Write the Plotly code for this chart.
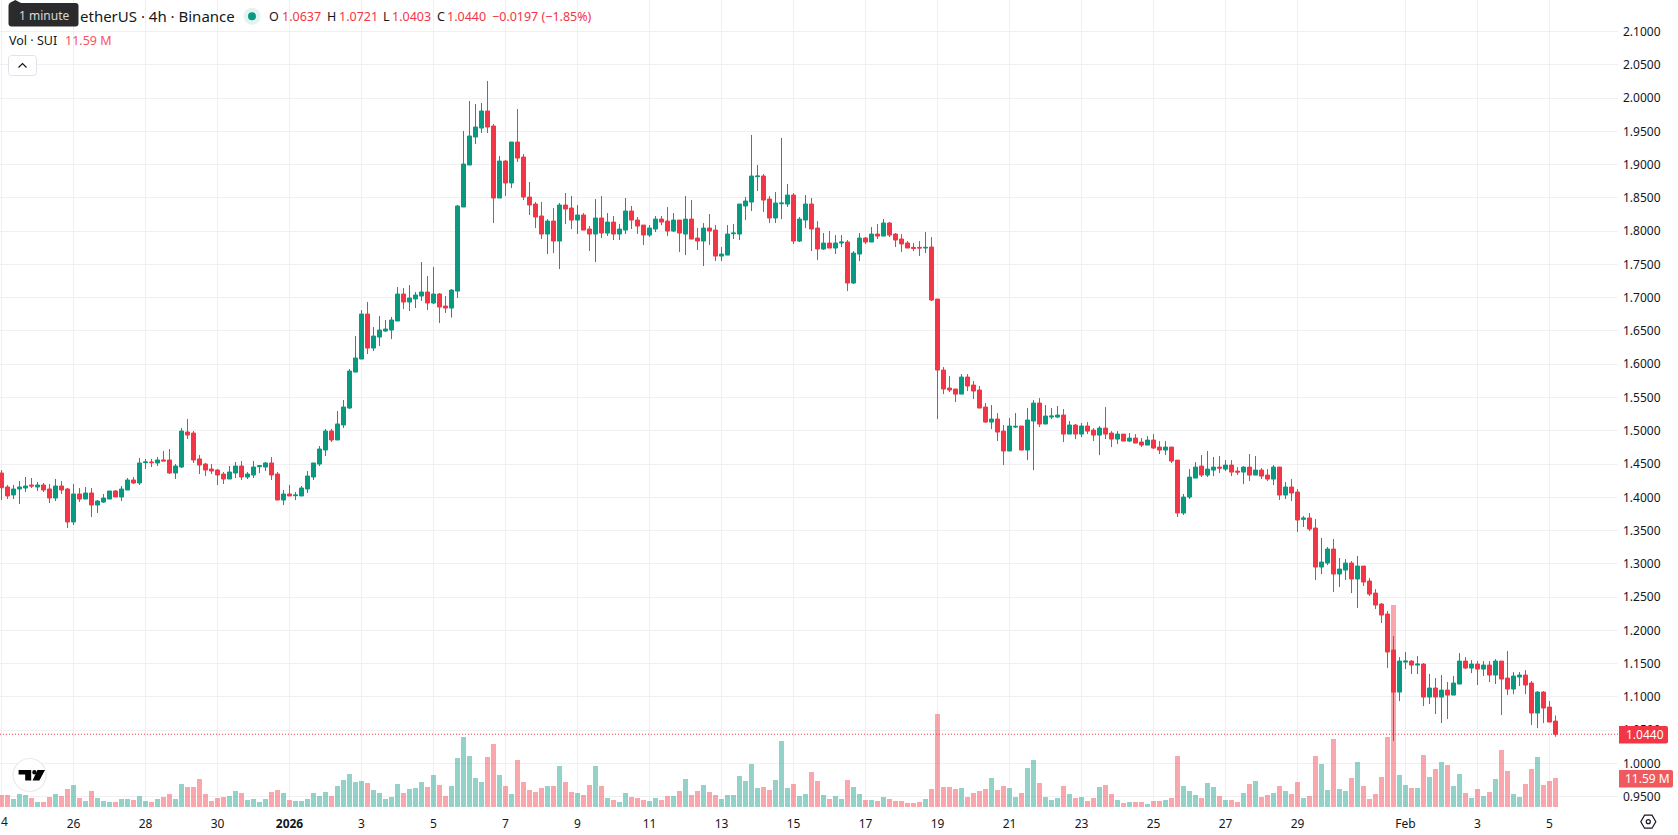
import pandas as pd
import plotly.graph_objects as go

# SUI/USDT 4h candles, 24 Dec 2025 00:00 onward
opens = [
    1.4365,1.4155,1.4035,1.4125,1.4140,1.4185,1.4155,1.4185,1.4125,1.3989,
    1.4170,1.4125,1.3629,1.4050,1.3974,1.4065,1.3884,1.3929,1.3974,1.4095,
    1.4005,1.4110,1.4260,1.4215,1.4521,1.4531,1.4516,1.4561,1.4561,1.4365,
    1.4455,1.4981,1.4966,1.4576,1.4500,1.4425,1.4410,1.4350,1.4275,1.4365,
    1.4470,1.4305,1.4335,1.4460,1.4455,1.4516,1.4350,1.3959,1.4050,1.4025,
    1.4020,1.4125,1.4305,1.4500,1.4711,1.4996,1.4861,1.5087,1.5342,1.5882,
    1.6078,1.6754,1.6243,1.6408,1.6499,1.6514,1.6649,1.7055,1.6934,1.6980,
    1.7025,1.7085,1.6920,1.7055,1.6874,1.6844,1.7099,1.8362,1.8993,1.9414,
    1.9549,1.9805,1.9579,1.8497,1.9053,1.8723,1.9339,1.9113,1.8512,1.8407,
    1.8227,1.7956,1.8151,1.7851,1.8392,1.8347,1.8166,1.8242,1.8031,1.7956,
    1.8197,1.7971,1.8136,1.7956,1.8016,1.8302,1.8166,1.8091,1.7941,1.8031,
    1.8181,1.8151,1.8001,1.8166,1.7956,1.8181,1.7896,1.7851,1.8046,1.8016,
    1.7625,1.7640,1.7961,1.7956,1.8377,1.8437,1.8818,1.8828,1.8482,1.8197,
    1.8412,1.8407,1.8542,1.7851,1.8166,1.8407,1.8046,1.7731,1.7821,1.7746,
    1.7821,1.7836,1.7220,1.7655,1.7896,1.7836,1.7956,1.7926,1.8122,1.7956,
    1.7881,1.7821,1.7756,1.7756,1.7746,1.7761,1.6979,1.5912,1.5642,1.5627,
    1.5551,1.5807,1.5687,1.5612,1.5356,1.5131,1.5176,1.4995,1.4695,1.5056,
    1.5071,1.4710,1.5146,1.5416,1.5101,1.5206,1.5206,1.5236,1.4950,1.5086,
    1.4950,1.5071,1.5010,1.4935,1.5040,1.4965,1.4875,1.4950,1.4845,1.4890,
    1.4830,1.4785,1.4860,1.4755,1.4710,1.4755,1.4559,1.3764,1.4004,1.4289,
    1.4469,1.4334,1.4409,1.4454,1.4424,1.4484,1.4394,1.4379,1.4454,1.4334,
    1.4409,1.4334,1.4274,1.4455,1.4034,1.4155,1.4079,1.3669,1.3689,1.3538,
    1.2952,1.3012,1.3223,1.2847,1.2907,1.3012,1.2772,1.2967,1.2742,1.2561,
    1.2396,1.2246,1.1705,1.1073,1.1524,1.1539,1.1479,1.1494,1.0998,1.1134,
    1.0998,1.1103,1.1028,1.1194,1.1539,1.1434,1.1494,1.1419,1.1479,1.1329,
    1.1539,1.1284,1.1119,1.1299,1.1329,1.1209,1.0758,1.1073,1.0848,1.0637,
]
highs = [
    1.4410,1.4185,1.4185,1.4245,1.4305,1.4290,1.4230,1.4215,1.4200,1.4275,
    1.4245,1.4140,1.4200,1.4140,1.4155,1.4140,1.3959,1.4050,1.4095,1.4110,
    1.4170,1.4290,1.4305,1.4591,1.4576,1.4576,1.4606,1.4696,1.4726,1.4500,
    1.5042,1.5177,1.4996,1.4636,1.4516,1.4500,1.4425,1.4380,1.4470,1.4531,
    1.4546,1.4380,1.4546,1.4485,1.4531,1.4606,1.4380,1.4110,1.4185,1.4080,
    1.4170,1.4395,1.4516,1.4771,1.5027,1.5027,1.5297,1.5462,1.5927,1.6423,
    1.6814,1.6934,1.6559,1.6724,1.6664,1.6709,1.7160,1.7145,1.7190,1.7085,
    1.7536,1.7325,1.7460,1.7070,1.7024,1.7129,1.8392,1.9504,1.9955,1.9910,
    1.9925,2.0256,1.9609,1.9128,1.9068,1.9339,1.9835,1.9158,1.8738,1.8437,
    1.8437,1.8181,1.8347,1.8422,1.8572,1.8527,1.8392,1.8272,1.8076,1.8482,
    1.8527,1.8272,1.8227,1.8106,1.8497,1.8377,1.8212,1.8091,1.8091,1.8227,
    1.8227,1.8362,1.8272,1.8166,1.8527,1.8467,1.8046,1.8121,1.8257,1.8091,
    1.7761,1.8091,1.8106,1.8407,1.8512,1.9444,1.8993,1.8858,1.8527,1.8587,
    1.9399,1.8708,1.8572,1.8212,1.8542,1.8497,1.8151,1.7971,1.8001,1.7941,
    1.7941,1.7866,1.7701,1.7971,1.7911,1.8061,1.8107,1.8182,1.8137,1.7971,
    1.7956,1.7851,1.7821,1.7851,1.7986,1.7911,1.6979,1.5957,1.5822,1.5627,
    1.5852,1.5852,1.5747,1.5672,1.5416,1.5386,1.5266,1.5086,1.5191,1.5266,
    1.5071,1.5341,1.5461,1.5491,1.5386,1.5341,1.5371,1.5326,1.5146,1.5101,
    1.5116,1.5131,1.5040,1.5071,1.5356,1.4995,1.4995,1.4950,1.4965,1.4950,
    1.4890,1.4920,1.4950,1.4845,1.4845,1.4755,1.4559,1.4050,1.4424,1.4529,
    1.4635,1.4695,1.4605,1.4620,1.4559,1.4559,1.4454,1.4469,1.4650,1.4620,
    1.4439,1.4424,1.4484,1.4455,1.4230,1.4275,1.4125,1.3719,1.3764,1.3674,
    1.3388,1.3253,1.3373,1.3088,1.3072,1.3042,1.3118,1.2967,1.2787,1.2621,
    1.2411,1.2291,1.1915,1.1599,1.1675,1.1554,1.1614,1.1509,1.1344,1.1284,
    1.1329,1.1224,1.1314,1.1660,1.1599,1.1554,1.1539,1.1539,1.1539,1.1569,
    1.1539,1.1690,1.1374,1.1374,1.1404,1.1239,1.1088,1.1088,1.0938,1.0721,
]
lows = [
    1.3959,1.3974,1.3974,1.3899,1.4080,1.4140,1.4095,1.4080,1.3914,1.3944,
    1.4050,1.3539,1.3584,1.3929,1.3974,1.3704,1.3764,1.3914,1.3974,1.4005,
    1.3944,1.4110,1.4200,1.4185,1.4425,1.4455,1.4470,1.4546,1.4350,1.4275,
    1.4440,1.4876,1.4516,1.4350,1.4320,1.4350,1.4185,1.4200,1.4275,1.4290,
    1.4260,1.4275,1.4290,1.4365,1.4395,1.4260,1.3959,1.3884,1.4020,1.3959,
    1.4020,1.4065,1.4260,1.4470,1.4621,1.4831,1.4861,1.5042,1.5327,1.5882,
    1.6078,1.6153,1.6198,1.6273,1.6484,1.6378,1.6649,1.6829,1.6799,1.6844,
    1.6950,1.6814,1.6904,1.6619,1.6770,1.6700,1.6994,1.8362,1.8993,1.9309,
    1.9474,1.9474,1.8121,1.8497,1.8527,1.8647,1.9038,1.8467,1.8242,1.8046,
    1.7881,1.7655,1.7670,1.7430,1.8106,1.8031,1.7956,1.8016,1.7701,1.7535,
    1.7896,1.7926,1.7866,1.7866,1.7956,1.8031,1.7956,1.7791,1.7911,1.7986,
    1.8091,1.7926,1.7986,1.7686,1.7640,1.7881,1.7716,1.7475,1.7791,1.7550,
    1.7550,1.7640,1.7881,1.7866,1.8166,1.8302,1.8602,1.8287,1.8121,1.8121,
    1.8181,1.8362,1.7806,1.7836,1.8046,1.7701,1.7565,1.7716,1.7746,1.7655,
    1.7761,1.7099,1.7205,1.7550,1.7806,1.7836,1.7881,1.7926,1.7911,1.7761,
    1.7686,1.7746,1.7701,1.7626,1.7671,1.6949,1.5176,1.5551,1.5581,1.5431,
    1.5551,1.5597,1.5476,1.5341,1.5116,1.5025,1.4845,1.4484,1.4695,1.5041,
    1.4710,1.4559,1.4409,1.5056,1.5101,1.5176,1.5191,1.4830,1.4950,1.4875,
    1.4905,1.4950,1.4845,1.4635,1.4875,1.4755,1.4800,1.4845,1.4830,1.4815,
    1.4755,1.4785,1.4725,1.4650,1.4635,1.4514,1.3704,1.3734,1.3973,1.4289,
    1.4304,1.4304,1.4319,1.4364,1.4394,1.4319,1.4334,1.4199,1.4244,1.4334,
    1.4274,1.4244,1.4184,1.3959,1.3974,1.3944,1.3478,1.3553,1.3493,1.2757,
    1.2847,1.2982,1.2576,1.2652,1.2757,1.2561,1.2336,1.2667,1.2516,1.2321,
    1.2111,1.1434,1.0338,1.0938,1.1419,1.1344,1.1344,1.0863,1.0893,1.0743,
    1.0608,1.0668,1.1028,1.1194,1.1419,1.1359,1.1179,1.1314,1.1224,1.1194,
    1.0728,1.1028,1.1043,1.1164,1.1043,1.0578,1.0532,1.0608,1.0623,1.0403,
]
closes = [
    1.4145,1.4020,1.4125,1.4155,1.4170,1.4170,1.4185,1.4110,1.3989,1.4170,
    1.4110,1.3629,1.4050,1.3974,1.4065,1.3884,1.3944,1.3989,1.4095,1.4005,
    1.4125,1.4260,1.4215,1.4516,1.4531,1.4521,1.4561,1.4546,1.4365,1.4470,
    1.4996,1.4936,1.4561,1.4485,1.4410,1.4395,1.4335,1.4275,1.4380,1.4470,
    1.4305,1.4350,1.4455,1.4475,1.4516,1.4335,1.3959,1.4050,1.4020,1.4035,
    1.4140,1.4320,1.4516,1.4726,1.4996,1.4861,1.5102,1.5357,1.5897,1.6093,
    1.6754,1.6243,1.6423,1.6514,1.6529,1.6664,1.7055,1.6934,1.6995,1.7040,
    1.7085,1.6920,1.7055,1.6859,1.6844,1.7114,1.8377,1.9008,1.9429,1.9564,
    1.9805,1.9564,1.8497,1.9053,1.8723,1.9339,1.9098,1.8512,1.8392,1.8212,
    1.7956,1.8151,1.7851,1.8392,1.8332,1.8166,1.8242,1.8016,1.7956,1.8197,
    1.7971,1.8136,1.7956,1.8031,1.8302,1.8166,1.8076,1.7941,1.8046,1.8181,
    1.8136,1.8001,1.8166,1.7971,1.8181,1.7881,1.7851,1.8046,1.8001,1.7625,
    1.7655,1.7956,1.7971,1.8407,1.8452,1.8828,1.8828,1.8467,1.8197,1.8422,
    1.8422,1.8542,1.7851,1.8181,1.8407,1.8031,1.7731,1.7821,1.7746,1.7821,
    1.7836,1.7220,1.7670,1.7896,1.7836,1.7956,1.7926,1.8122,1.7941,1.7866,
    1.7806,1.7746,1.7741,1.7746,1.7756,1.6964,1.5912,1.5627,1.5612,1.5551,
    1.5807,1.5672,1.5597,1.5341,1.5131,1.5176,1.4980,1.4695,1.5071,1.5066,
    1.4710,1.5161,1.5416,1.5101,1.5221,1.5221,1.5236,1.4950,1.5086,1.4950,
    1.5071,1.4995,1.4935,1.5040,1.4950,1.4875,1.4950,1.4845,1.4890,1.4815,
    1.4785,1.4860,1.4740,1.4710,1.4755,1.4545,1.3764,1.4004,1.4304,1.4454,
    1.4334,1.4424,1.4454,1.4439,1.4484,1.4379,1.4379,1.4454,1.4334,1.4409,
    1.4319,1.4274,1.4454,1.4034,1.4155,1.4064,1.3659,1.3689,1.3523,1.2952,
    1.3027,1.3223,1.2847,1.2922,1.3012,1.2772,1.2967,1.2727,1.2546,1.2381,
    1.2231,1.1675,1.1073,1.1539,1.1539,1.1479,1.1494,1.0998,1.1134,1.0998,
    1.1103,1.1028,1.1209,1.1539,1.1434,1.1494,1.1419,1.1479,1.1329,1.1539,
    1.1269,1.1119,1.1314,1.1329,1.1179,1.0758,1.1073,1.0833,1.0623,1.0440,
]
# Volume per candle, millions of SUI
volumes = [
    4.8,4.8,3.2,5.2,4.8,3.6,2.0,2.0,4.0,5.2,
    4.4,7.2,8.8,3.6,2.4,6.4,3.6,2.4,2.0,2.0,
    3.2,3.2,2.8,4.4,2.4,2.0,3.2,4.0,5.2,3.2,
    9.2,8.0,8.0,11.2,5.2,2.4,3.6,4.0,4.4,6.4,
    5.6,2.8,3.2,2.0,3.2,6.0,6.8,5.6,2.8,2.4,
    2.4,3.2,5.6,4.4,6.0,4.4,8.4,10.8,13.2,10.0,
    10.4,9.6,6.8,5.6,3.2,4.0,9.2,5.6,7.2,7.6,
    10.0,8.0,12.8,8.8,4.4,8.4,19.6,28.0,20.4,11.6,
    10.0,20.0,25.2,12.8,8.4,5.2,18.8,10.0,6.8,6.0,
    7.6,8.4,8.4,16.4,10.0,6.0,5.6,4.8,8.8,16.4,
    8.4,3.6,2.8,2.0,5.6,4.0,3.6,2.8,2.4,3.6,
    2.8,4.4,4.4,6.4,11.2,4.8,6.4,8.8,6.0,4.8,
    3.2,4.8,4.8,12.4,10.4,17.2,7.6,8.0,6.8,10.8,
    26.4,7.6,9.2,4.4,5.2,14.0,10.4,4.8,3.2,4.4,
    3.2,10.8,8.0,5.2,2.8,2.8,2.4,4.0,3.2,2.4,
    2.4,1.6,1.6,2.0,3.2,7.2,37.2,8.0,8.0,7.2,
    7.6,4.0,5.6,6.4,7.2,11.6,6.8,8.4,7.6,4.0,
    5.6,15.6,18.8,9.6,4.0,2.8,3.6,8.4,5.2,3.6,
    4.0,2.4,3.6,8.0,8.8,5.2,2.8,1.6,2.0,2.0,
    2.0,1.2,2.4,2.4,2.8,3.6,20.4,8.4,6.4,4.8,
    3.6,9.6,8.0,4.4,2.8,2.8,2.0,5.6,9.2,10.4,
    4.0,4.8,5.6,8.4,6.4,5.2,10.0,3.6,4.4,20.4,
    17.2,6.8,27.2,7.2,6.4,11.6,18.0,8.4,3.2,5.2,
    12.0,28.0,80.8,12.8,8.8,7.6,7.6,20.8,12.0,15.2,
    18.0,16.8,8.4,13.2,5.6,3.6,7.2,4.4,6.0,11.2,
    22.8,14.4,5.2,4.0,9.2,15.2,20.0,8.8,10.4,11.59,
]
tick_dates = [
    "2025-12-24", "2025-12-26", "2025-12-28", "2025-12-30", "2026-01-01",
    "2026-01-03", "2026-01-05", "2026-01-07", "2026-01-09", "2026-01-11",
    "2026-01-13", "2026-01-15", "2026-01-17", "2026-01-19", "2026-01-21",
    "2026-01-23", "2026-01-25", "2026-01-27", "2026-01-29", "2026-02-01",
    "2026-02-03", "2026-02-05",
]
# The first day label sits on the page edge and is drawn separately below
tick_labels = [
    "", "26", "28", "30", "<b>2026</b>", "3", "5", "7", "9", "11", "13",
    "15", "17", "19", "21", "23", "25", "27", "29", "Feb", "3", "5",
]

UP = "#089981"
DOWN = "#F23645"
INK = "#131722"
GRID = "#F0F0F2"
FONT = "Noto Sans"

WIDTH, HEIGHT = 1678, 835
PANE_W, PANE_H = 1618, 807

def fx(px):
    return px / PANE_W

def fy(px):
    return 1 - px / PANE_H

def rounded(x0, y0, x1, y1, r, left=True):
    """Closed path for a rounded box, given in page pixels."""
    rl = r if left else 0.01
    pts = [
        f"M {fx(x0 + rl)} {fy(y0)}", f"L {fx(x1 - r)} {fy(y0)}",
        f"Q {fx(x1)} {fy(y0)} {fx(x1)} {fy(y0 + r)}", f"L {fx(x1)} {fy(y1 - r)}",
        f"Q {fx(x1)} {fy(y1)} {fx(x1 - r)} {fy(y1)}", f"L {fx(x0 + rl)} {fy(y1)}",
        f"Q {fx(x0)} {fy(y1)} {fx(x0)} {fy(y1 - rl)}", f"L {fx(x0)} {fy(y0 + rl)}",
        f"Q {fx(x0)} {fy(y0)} {fx(x0 + rl)} {fy(y0)}", "Z",
    ]
    return " ".join(pts)

def poly(points, close=True):
    s = " ".join(("M" if i == 0 else "L") + f" {fx(x)} {fy(y)}" for i, (x, y) in enumerate(points))
    return s + (" Z" if close else "")

def deco(path, fill="rgba(0,0,0,0)", line=None, width=1):
    return dict(type="path", xref="paper", yref="paper", path=path, fillcolor=fill,
                line=dict(color=line or "rgba(0,0,0,0)", width=width if line else 0), layer="above")

def disc(cx, cy, r, fill, line=None, width=1):
    return dict(type="circle", xref="paper", yref="paper", x0=fx(cx - r), x1=fx(cx + r),
                y0=fy(cy + r), y1=fy(cy - r), fillcolor=fill,
                line=dict(color=line or "rgba(0,0,0,0)", width=width if line else 0), layer="above")

def label(px, py, text, color=INK, size=13, anchor="left", family=FONT):
    return dict(xref="paper", yref="paper", x=fx(px), y=fy(py), text=text, showarrow=False,
                xanchor=anchor, yanchor="middle", align="left",
                font=dict(family=family, size=size, color=color))

times = pd.date_range("2025-12-24 00:00", periods=len(closes), freq="4h")
candle_ms = 4 * 3600 * 1000
minutes_per_px = 40
x_start = times[0] - pd.Timedelta(minutes=1.5 * minutes_per_px)
x_end = x_start + pd.Timedelta(minutes=PANE_W * minutes_per_px)

vol_colors = [
    "rgba(8,153,129,0.44)" if c >= o else "rgba(242,54,69,0.44)"
    for o, c in zip(opens, closes)
]

fig = go.Figure()
fig.add_trace(go.Bar(
    x=times, y=volumes, width=candle_ms * 5 / 6, marker=dict(color=vol_colors, line=dict(width=0)),
    yaxis="y", showlegend=False, hoverinfo="skip",
))
fig.add_trace(go.Candlestick(
    x=times, open=opens, high=highs, low=lows, close=closes, yaxis="y2", showlegend=False,
    increasing=dict(line=dict(color=UP, width=1), fillcolor=UP),
    decreasing=dict(line=dict(color=DOWN, width=1), fillcolor=DOWN),
    whiskerwidth=0,
))

shapes = [
    # Last-price line
    dict(type="line", xref="paper", yref="y2", x0=0, x1=1, y0=closes[-1], y1=closes[-1],
         line=dict(color=DOWN, width=1, dash="1px,2px"), layer="above"),
    # Price and volume tags on the scale
    deco(rounded(1619, 726, 1668, 743.5, 2, left=False), fill=DOWN),
    deco(rounded(1619, 770, 1673, 787.5, 2, left=False), fill="#F05A5F"),
    # Tooltip over the symbol title
    deco(poly([(8.5, 3.5), (15.3, 0), (22, 3.5)]), fill="#2B2B2D"),
    deco(rounded(8.5, 3, 78.5, 26.5, 3), fill="#2B2B2D"),
    # Market status dot
    disc(252, 16.3, 8.5, "#E2F3F0"),
    disc(252, 16.3, 4, UP),
    # Collapse button
    deco(rounded(8.5, 55.5, 36.5, 75.5, 3), fill="#FFFFFF", line="#E0E3EB"),
    deco(poly([(18.5, 67.5), (22.5, 63.5), (26.5, 67.5)], close=False), line=INK, width=1.2),
    # Logo badge
    disc(29.6, 775, 16.5, "#FFFFFF", line="#EAEAEC", width=1.2),
    deco(poly([(18.6, 770), (31.2, 770), (31.2, 780.5), (25.2, 780.5), (25.2, 774.5), (18.6, 774.5)]), fill="#000000"),
    disc(34.4, 772.2, 2.2, "#000000"),
    deco(poly([(37.4, 770), (45, 770), (39.4, 780.5), (32.6, 780.5)]), fill="#000000"),
    # Settings button
    deco(poly([(1640.8, 821.7), (1644.6, 815.2), (1652, 815.2), (1655.8, 821.7), (1652, 828.2), (1644.6, 828.2)]),
         line=INK, width=1.2),
    disc(1648.3, 821.7, 2, "#FFFFFF", line=INK, width=1.2),
]

annotations = [
    label(4.5, 821.7, "4", size=12, anchor="center"),
    label(43.5, 15.5, "1 minute", color="#D8D8D8", size=12, anchor="center"),
    label(78, 16.3, "etherUS · 4h · Binance", size=15),
    label(267, 16.3, "O", size=12.5),
    label(279.5, 16.3, f"{opens[-1]:.4f}", color=DOWN, size=12.5),
    label(325, 16.3, "H", size=12.5),
    label(336.5, 16.3, f"{highs[-1]:.4f}", color=DOWN, size=12.5),
    label(381, 16.3, "L", size=12.5),
    label(389.5, 16.3, f"{lows[-1]:.4f}", color=DOWN, size=12.5),
    label(434.5, 16.3, "C", size=12.5),
    label(444.5, 16.3, f"{closes[-1]:.4f}", color=DOWN, size=12.5),
    label(490, 16.3, "−0.0197 (−1.85%)", color=DOWN, size=12.5),
    label(7, 40.5, "Vol · SUI", size=12.5),
    label(63, 40.5, f"{volumes[-1]:.2f} M", color="#F7525F", size=12.5),
    label(1644.5, 734.7, f"{closes[-1]:.4f}", color="#FFFFFF", size=12, anchor="center"),
    label(1647.3, 778.7, f"{volumes[-1]:.2f} M", color="#FFFFFF", size=12, anchor="center"),
]

fig.update_layout(
    width=WIDTH, height=HEIGHT, autosize=False,
    margin=dict(l=0, r=WIDTH - PANE_W, t=0, b=HEIGHT - PANE_H, pad=0),
    paper_bgcolor="#FFFFFF", plot_bgcolor="#FFFFFF",
    showlegend=False, hovermode=False, dragmode=False,
    boxgap=1 / 3, boxgroupgap=0, boxmode="overlay", bargap=0,
    shapes=shapes, annotations=annotations,
    font=dict(family=FONT, size=12, color=INK),
    xaxis=dict(
        type="date", range=[x_start, x_end], tickmode="array", tickvals=tick_dates, ticktext=tick_labels,
        showgrid=True, gridcolor=GRID, gridwidth=1, zeroline=False, showline=False, ticks="",
        tickangle=0, tickfont=dict(family=FONT, size=12, color=INK), rangeslider=dict(visible=False),
        ticklabelstandoff=8, fixedrange=True,
    ),
    yaxis=dict(range=[0, PANE_H * volumes[-1] / 29], visible=False, fixedrange=True),
    yaxis2=dict(
        overlaying="y", side="right", anchor="x", range=[0.93464, 2.1473],
        tick0=0.95, dtick=0.05, tickformat=".4f", showgrid=True, gridcolor=GRID, gridwidth=1,
        zeroline=False, showline=False, ticks="", tickfont=dict(family=FONT, size=12, color=INK),
        ticklabelstandoff=4, fixedrange=True,
    ),
)

fig.write_html("out.html", config={"displayModeBar": False})
